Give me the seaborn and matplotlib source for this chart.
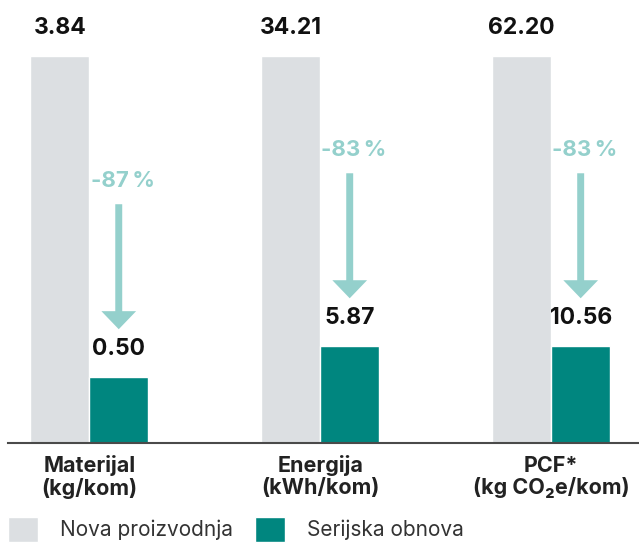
import pandas as pd
import seaborn as sns
import matplotlib.pyplot as plt
from matplotlib.patches import Patch

# values
categories = ["Materijal\n(kg/kom)", "Energija\n(kWh/kom)", "PCF*\n(kg CO\u2082e/kom)"]
series = ["Nova proizvodnja", "Serijska obnova"]
new_values = [3.84, 34.21, 62.20]
reman_values = [0.50, 5.87, 10.56]
reduction_labels = ["-87\u2009%", "-83\u2009%", "-83\u2009%"]
# the bars are not drawn to scale in the original: shown height in % of the grey bar
new_bar_pct = [100, 100, 100]
reman_bar_pct = [17, 25, 25]

GREY = "#dcdfe2"
TEAL = "#00867f"
LIGHT_TEAL = "#94d0cc"
PX = 0.72  # points per pixel at dpi 100

df = pd.DataFrame({
    "category": categories * 2,
    "series": [series[0]] * 3 + [series[1]] * 3,
    "height": new_bar_pct + reman_bar_pct,
})

sns.set_theme(style="white")
plt.rcParams["font.family"] = ["Inter", "DejaVu Sans"]

fig = plt.figure(figsize=(6.39, 5.45), dpi=100)
ax = fig.add_axes([8 / 639, 102 / 545, 631 / 639, 443 / 545])

sns.barplot(data=df, x="category", y="height", hue="series", hue_order=series,
            palette={series[0]: GREY, series[1]: TEAL}, width=0.51, gap=0,
            saturation=1, legend=False, ax=ax)

ax.set_xlim(-0.352, 2.380)
ax.set_ylim(0, 114.5)
ax.set_xlabel("")
ax.set_ylabel("")
ax.set_yticks([])
sns.despine(ax=ax, left=True)
ax.spines["bottom"].set_color("#4a4a4a")
ax.spines["bottom"].set_linewidth(1.5)
ax.tick_params(axis="x", length=0, pad=9)
for t in ax.get_xticklabels():
    t.set(fontweight="bold", fontsize=15.5, color="#222222", linespacing=1.08)

# value labels above the bars
for cont, vals in zip(ax.containers, [new_values, reman_values]):
    for p, v in zip(cont.patches, vals):
        x = p.get_x() + p.get_width() / 2
        ax.annotate('%.2f' % v, xy=(x, p.get_height()), xytext=(0, 28 * PX),
                    textcoords="offset points", ha="center", va="center",
                    fontsize=16.5, fontweight="bold", color="#111111")

# reduction arrows above the teal bars
for p, lab in zip(ax.containers[1].patches, reduction_labels):
    x = p.get_x() + p.get_width() / 2
    top = p.get_height()
    ax.annotate("", xy=(x, top), xytext=(0, 173 * PX), textcoords="offset points",
                arrowprops=dict(arrowstyle="simple,head_length=1.3,head_width=2.5,tail_width=0.5",
                                mutation_scale=10, color=LIGHT_TEAL, lw=0,
                                shrinkA=0, shrinkB=48 * PX))
    ax.annotate(lab, xy=(x, top), xytext=(4 * PX, 196 * PX), textcoords="offset points",
                ha="center", va="center", fontsize=16, fontweight="bold", color=LIGHT_TEAL)

handles = [Patch(facecolor=GREY), Patch(facecolor=TEAL)]
fig.legend(handles, series, loc="upper left", bbox_to_anchor=(8 / 639, 1 - 517 / 545),
           ncol=2, frameon=False, fontsize=15, handlelength=1.44, handleheight=1.44,
           handletextpad=1.05, columnspacing=1.05, borderpad=0, borderaxespad=0,
           labelcolor="#333333")

fig.savefig("out.png", dpi=100)
